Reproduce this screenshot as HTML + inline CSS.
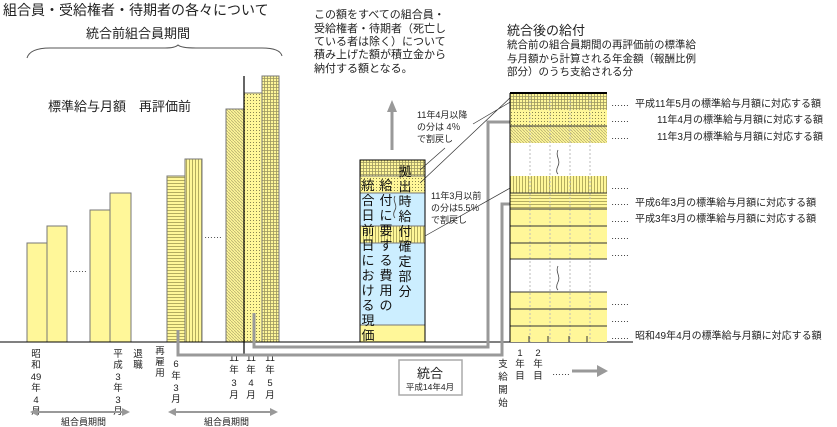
<!DOCTYPE html>
<html><head><meta charset="utf-8"><style>
html,body{margin:0;padding:0;background:#fff}
svg{display:block;font-family:"Liberation Sans","Noto Sans CJK JP",sans-serif}
</style></head><body>
<svg width="837" height="427" viewBox="0 0 837 427" xmlns="http://www.w3.org/2000/svg">
<defs>
<pattern id="hz" width="4" height="3" patternUnits="userSpaceOnUse"><rect width="4" height="3" fill="#fff799"/><line x1="0" y1="0.5" x2="4" y2="0.5" stroke="#a09a50" stroke-width="0.8"/></pattern>
<pattern id="vt" width="3" height="4" patternUnits="userSpaceOnUse"><rect width="3" height="4" fill="#fff799"/><line x1="0.5" y1="0" x2="0.5" y2="4" stroke="#a09a50" stroke-width="0.8"/></pattern>
<pattern id="dg" width="3" height="3" patternUnits="userSpaceOnUse"><rect width="3" height="3" fill="#fff799"/><line x1="0" y1="0" x2="3" y2="3" stroke="#b8b070" stroke-width="0.8"/></pattern>
<pattern id="dt" width="3" height="3" patternUnits="userSpaceOnUse"><rect width="3" height="3" fill="#fff799"/><rect x="1" y="1" width="1" height="1" fill="#8a8550"/></pattern>
<pattern id="gr" width="3" height="3" patternUnits="userSpaceOnUse"><rect width="3" height="3" fill="#fff799"/><path d="M0 0.5H3M0.5 0V3" stroke="#9a9560" stroke-width="0.8"/></pattern>
</defs>
<g font-size="13" fill="#222">
<text x="3" y="15" font-size="14">組合員・受給権者・待期者の各々について</text>
<text x="86" y="38">統合前組合員期間</text>
<text x="314" y="18" font-size="11">この額をすべての組合員・</text>
<text x="314" y="32" font-size="11">受給権者・待期者（死亡し</text>
<text x="314" y="45" font-size="11">ている者は除く）について</text>
<text x="314" y="58" font-size="11">積み上げた額が積立金から</text>
<text x="314" y="72" font-size="11">納付する額となる。</text>
<text x="507" y="35">統合後の給付</text>
<text x="507" y="48" font-size="10.5">統合前の組合員期間の再評価前の標準給</text>
<text x="507" y="62" font-size="10.5">与月額から計算される年金額（報酬比例</text>
<text x="507" y="75" font-size="10.5">部分）のうち支給される分</text>
<text x="48" y="111">標準給与月額　再評価前</text>
</g>
<path d="M27 58 Q30 48 50 48 L165 48 Q175 48 178 45 Q181 48 196 48 L262 48 Q280 48 282 56" fill="none" stroke="#555" stroke-width="1"/>
<g stroke="#777" stroke-width="1">
<rect x="27" y="243" width="20" height="99" fill="#fff799"/>
<rect x="47" y="226" width="20" height="116" fill="#fff799"/>
<rect x="90" y="210" width="20" height="132" fill="#fff799"/>
<rect x="110" y="193" width="21" height="149" fill="#fff799"/>
<rect x="167" y="176" width="18" height="166" fill="url(#hz)"/>
<rect x="185" y="159" width="17" height="183" fill="url(#vt)"/>
<rect x="226" y="109" width="18" height="233" fill="url(#dg)"/>
<rect x="244" y="93" width="18" height="249" fill="url(#dt)"/>
<rect x="262" y="76" width="17" height="266" fill="url(#gr)"/>
</g>
<line x1="244" y1="76" x2="244" y2="354" stroke="#000" stroke-width="1.2"/>
<g font-size="9" fill="#333"><text x="69" y="272">……</text><text x="204" y="238">……</text></g>
<line x1="0" y1="342" x2="633" y2="342" stroke="#000" stroke-width="1"/>
<g font-size="9.5" fill="#222" text-anchor="middle">
<text x="36" y="357">昭</text><text x="36" y="368">和</text><text x="36" y="380">49</text><text x="36" y="391">年</text><text x="36" y="403">4</text><text x="36" y="414">月</text>
<text x="118" y="357">平</text><text x="118" y="368">成</text><text x="118" y="380">3</text><text x="118" y="391">年</text><text x="118" y="403">3</text><text x="118" y="414">月</text>
<text x="138" y="357">退</text><text x="138" y="368">職</text>
<text x="160" y="354">再</text><text x="160" y="365">雇</text><text x="160" y="376">用</text>
<text x="176" y="367">6</text><text x="176" y="379">年</text><text x="176" y="391">3</text><text x="176" y="402">月</text>
<text x="234" y="361">11</text><text x="234" y="373">年</text><text x="234" y="386">3</text><text x="234" y="398">月</text>
<text x="251" y="361">11</text><text x="251" y="373">年</text><text x="251" y="386">4</text><text x="251" y="398">月</text>
<text x="270" y="361">11</text><text x="270" y="373">年</text><text x="270" y="386">5</text><text x="270" y="398">月</text>
</g>
<g stroke="#999" stroke-width="2" fill="#999">
<line x1="36" y1="412" x2="124" y2="412"/><path d="M30 412l8-4v8z M130 412l-8-4v8z" stroke="none"/>
<line x1="174" y1="412" x2="272" y2="412"/><path d="M168 412l8-4v8z M278 412l-8-4v8z" stroke="none"/>
</g>
<g font-size="9" fill="#222"><text x="61" y="425">組合員期間</text><text x="204" y="425">組合員期間</text></g>
<g stroke="#999" stroke-width="3" fill="none">
<path d="M178 330 V355 H502 V204 H515"/>
<path d="M254 313 V347 H488 V122 H513"/>
<line x1="392" y1="150" x2="392" y2="110"/>
<line x1="572" y1="371" x2="599" y2="371"/>
</g>
<g fill="#999">
<path d="M513 116l11 6-11 6z M515 198l11 6-11 6z M387 112l5-12 5 12z M597 365l11 6-11 6z"/>
</g>
<rect x="360" y="160" width="65" height="16" fill="url(#gr)"/>
<rect x="360" y="176" width="65" height="17" fill="url(#dt)"/>
<rect x="360" y="193" width="65" height="33" fill="#cceeff"/>
<rect x="360" y="226" width="65" height="17" fill="url(#vt)"/>
<rect x="360" y="243" width="65" height="82" fill="#cceeff"/>
<rect x="360" y="325" width="65" height="17" fill="#fff799"/>
<path d="M360 176H425M360 193H425M360 226H425M360 243H425M360 325H425" stroke="#777"/>
<rect x="360" y="160" width="65" height="182" fill="none" stroke="#000"/>
<g font-size="13" fill="#111" text-anchor="middle">
<text x="368" y="190">統</text><text x="368" y="205">合</text><text x="368" y="220">日</text><text x="368" y="235">前</text><text x="368" y="250">日</text><text x="368" y="265">に</text><text x="368" y="280">お</text><text x="368" y="295">け</text><text x="368" y="310">る</text><text x="368" y="325">現</text><text x="368" y="340">価</text>
<text x="386" y="190">給</text><text x="386" y="205">付</text><text x="386" y="220">に</text><text x="386" y="235">要</text><text x="386" y="250">す</text><text x="386" y="265">る</text><text x="386" y="280">費</text><text x="386" y="295">用</text><text x="386" y="310">の</text>
<text x="405" y="176">拠</text><text x="405" y="191">出</text><text x="405" y="206">時</text><text x="405" y="221">給</text><text x="405" y="236">付</text><text x="405" y="251">確</text><text x="405" y="266">定</text><text x="405" y="281">部</text><text x="405" y="296">分</text>
</g>
<path d="M395 196c-3 5 3 9 0 14s0 8 0 8" stroke="#444" fill="none" stroke-width="0.8"/>
<g font-size="9" fill="#222">
<text x="417" y="118">11年4月以降</text><text x="417" y="130">の分は 4％</text><text x="417" y="142">で割戻し</text>
<text x="431" y="199">11年3月以前</text><text x="431" y="211">の分は5.5％</text><text x="431" y="223">で割戻し</text>
</g>
<g stroke="#333" stroke-width="0.7" fill="none">
<path d="M445 148L420 170 M512 96L420 183 M512 187L425 236 M473 124L512 101"/>
</g>
<rect x="510" y="93" width="97" height="17" fill="url(#gr)"/>
<rect x="510" y="110" width="97" height="16" fill="url(#dt)"/>
<rect x="510" y="126" width="97" height="17" fill="url(#dg)"/>
<rect x="510" y="176" width="97" height="17" fill="url(#vt)"/>
<rect x="510" y="193" width="97" height="16" fill="url(#hz)"/>
<rect x="510" y="209" width="97" height="50" fill="#fff799"/>
<rect x="510" y="292" width="97" height="50" fill="#fff799"/>
<g stroke="#bbb" stroke-width="1" stroke-dasharray="2,2">
<line x1="530" y1="93" x2="530" y2="342"/><line x1="550" y1="93" x2="550" y2="342"/><line x1="570" y1="93" x2="570" y2="342"/><line x1="590" y1="93" x2="590" y2="342"/>
</g>
<g stroke="#333" stroke-width="1">
<path d="M510 126H607M510 193H607M510 209H607M510 226H607M510 243H607M510 259H607M510 292H607M510 309H607M510 326H607"/>
<line x1="510" y1="93" x2="607" y2="93" stroke="#000" stroke-width="2"/>
<line x1="510" y1="93" x2="510" y2="342" stroke="#000"/>
<path d="M529 342v-6M548 342v-6M569 342v-6M587 342v-6"/>
</g>
<path d="M558 150c-3 6 3 10 0 16s0 8 0 8M558 266c-3 6 3 10 0 16s0 8 0 8" stroke="#444" fill="none" stroke-width="0.8"/>
<g font-size="9" fill="#222">
<text x="611" y="106">……</text><text x="611" y="122">……</text><text x="611" y="139">……</text><text x="611" y="189">……</text><text x="611" y="205">……</text><text x="611" y="222">……</text><text x="611" y="239">……</text><text x="611" y="256">……</text><text x="611" y="305">……</text><text x="611" y="322">……</text><text x="611" y="339">……</text>
<text x="552" y="375">……</text>
</g>
<g font-size="10" fill="#222">
<text x="635" y="107">平成11年5月の標準給与月額に対応する額</text>
<text x="657" y="123">11年4月の標準給与月額に対応する額</text>
<text x="657" y="140">11年3月の標準給与月額に対応する額</text>
<text x="635" y="206">平成6年3月の標準給与月額に対応する額</text>
<text x="635" y="222">平成3年3月の標準給与月額に対応する額</text>
<text x="635" y="339">昭和49年4月の標準給与月額に対応する額</text>
</g>
<g font-size="9.5" fill="#222" text-anchor="middle">
<text x="503" y="367">支</text><text x="503" y="380">給</text><text x="503" y="393">開</text><text x="503" y="406">始</text>
<text x="520" y="356">1</text><text x="520" y="367">年</text><text x="520" y="379">目</text>
<text x="538" y="356">2</text><text x="538" y="367">年</text><text x="538" y="379">目</text>
</g>
<rect x="399" y="360" width="63" height="35" fill="#fff" stroke="#aaa" stroke-width="1.5"/>
<text x="430" y="378" font-size="13" text-anchor="middle" fill="#222">統合</text>
<text x="430" y="390" font-size="8.5" text-anchor="middle" fill="#222">平成14年4月</text>
</svg>
</body></html>
